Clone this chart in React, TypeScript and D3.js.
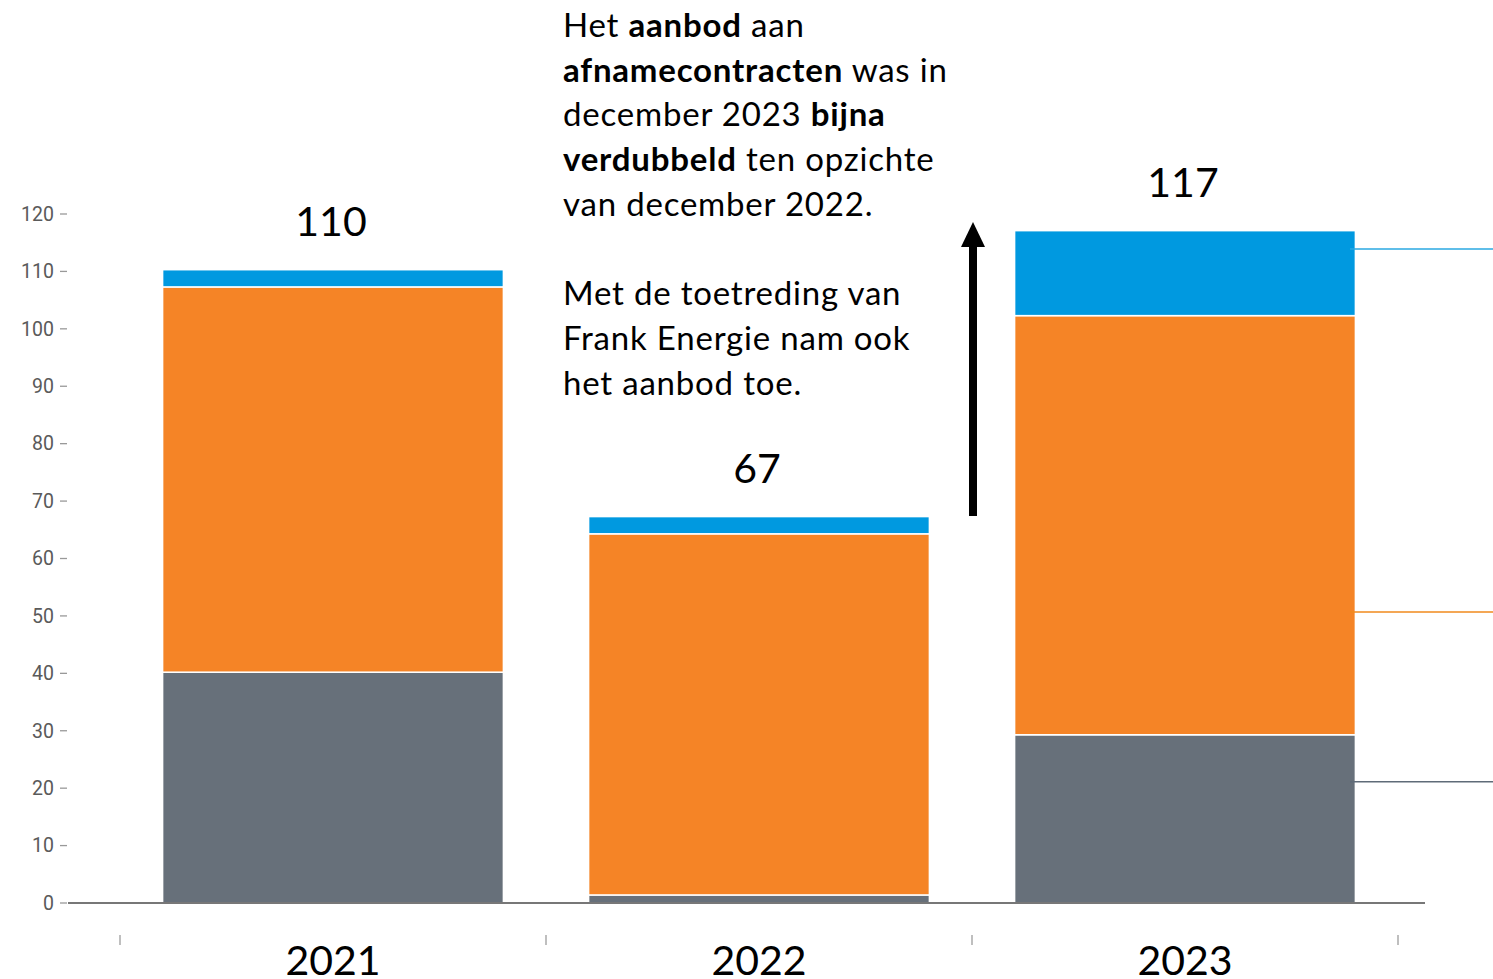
import React from 'react';
import * as d3 from 'd3';

const years = ['2021', '2022', '2023'];
const greyValues = [40.2, 1.4, 29.3];
const orangeValues = [67.1, 62.9, 73.0];
const blueValues = [3.0, 3.0, 14.8];
const totalLabels = ['110', '67', '117'];
const yTicks = [0, 10, 20, 30, 40, 50, 60, 70, 80, 90, 100, 110, 120];
const seriesColors = ['#67707a', '#f58426', '#0099e0'];
const leaderValues = [21.1, 50.7, 113.9];
const leaderColors = ['#5f6b78', '#f08a1c', '#2aa8e2'];
const arrowFrom = 67.4;
const arrowTo = 118.6;

const noteLines: [string, boolean][][] = [
  [['Het ', false], ['aanbod', true], [' aan', false]],
  [['afnamecontracten', true], [' was in', false]],
  [['december 2023 ', false], ['bijna', true]],
  [['verdubbeld', true], [' ten opzichte', false]],
  [['van december 2022.', false]],
  [],
  [['Met de toetreding van', false]],
  [['Frank Energie nam ook', false]],
  [['het aanbod toe.', false]],
];

const W = 1493;
const H = 979;
const FONT = 'Lato, "Open Sans", sans-serif';

export default function App() {
  const x = d3.scaleBand<string>()
    .domain(years)
    .range([120, 1398])
    .paddingInner(0.2)
    .paddingOuter(0.1);

  const y = d3.scaleLinear().domain([0, 120]).range([903, 214]);

  const rows = years.map((yr, i) => ({
    year: yr,
    grey: greyValues[i],
    orange: orangeValues[i],
    blue: blueValues[i],
  }));
  const stack = d3.stack<any>().keys(['grey', 'orange', 'blue'])(rows);

  const step = x.step();
  // tick marks sit halfway in the gap between bands
  const boundaries = years.map(yr => (x(yr) as number) - (step * 0.2) / 2)
    .concat([(x(years[years.length - 1]) as number) + x.bandwidth() + (step * 0.2) / 2]);

  const arrowX = boundaries[2] + 1;
  const yTop = y(arrowTo);
  const yBot = y(arrowFrom);

  return (
    <svg width={W} height={H} style={{ position: 'absolute', left: 0, top: 0, background: '#fff' }}>
      {/* y axis ticks */}
      <g>
        {yTicks.map(t => (
          <g key={t} transform={`translate(0,${y(t)})`}>
            <text x={54} dy="0.35em" textAnchor="end" fontFamily="Roboto, sans-serif" fontSize={19.5} fill="#5a5a5a">{t}</text>
            <line x1={60} x2={67} stroke="#999" strokeWidth={1.3} />
          </g>
        ))}
      </g>

      {/* bars */}
      {stack.map((layer, li) => (
        <g key={layer.key} fill={seriesColors[li]}>
          {layer.map((d, i) => (
            <rect
              key={i}
              x={x(years[i])}
              y={y(d[1])}
              width={x.bandwidth()}
              height={y(d[0]) - y(d[1])}
              stroke="#fff"
              strokeWidth={1.5}
            />
          ))}
        </g>
      ))}

      {/* baseline */}
      <line x1={68} x2={1425} y1={y(0)} y2={y(0)} stroke="#777" strokeWidth={2} />

      {boundaries.map((b, i) => (
        <line key={i} x1={b} x2={b} y1={935} y2={945} stroke="#aaa" strokeWidth={1.5} />
      ))}

      {/* year labels */}
      {years.map(yr => (
        <text key={yr} x={(x(yr) as number) + x.bandwidth() / 2} y={975} textAnchor="middle" fontFamily={FONT} fontSize={41} fill="#000">{yr}</text>
      ))}

      {/* total labels */}
      {rows.map((r, i) => (
        <text key={i} x={(x(r.year) as number) + x.bandwidth() / 2 - 2} y={y(r.grey + r.orange + r.blue) - 34} textAnchor="middle" fontFamily={FONT} fontSize={41} fill="#000">{totalLabels[i]}</text>
      ))}

      {/* leader lines on the right */}
      {leaderValues.map((v, i) => (
        <line key={i} x1={1350} x2={W} y1={y(v)} y2={y(v)} stroke={leaderColors[i]} strokeWidth={1.5} />
      ))}

      {/* arrow */}
      <line x1={arrowX} x2={arrowX} y1={yBot} y2={yTop + 22} stroke="#000" strokeWidth={8} />
      <path d={`M${arrowX},${yTop} L${arrowX - 12},${yTop + 25} L${arrowX + 12},${yTop + 25} Z`} fill="#000" />

      {/* annotation */}
      <text fontFamily={FONT} fontSize={33} letterSpacing={0.8} fill="#000">
        {noteLines.map((line, li) => (
          <tspan key={li} x={563} y={37 + li * 44.7}>
            {line.map(([s, b], si) => (
              <tspan key={si} fontWeight={b ? 'bold' : 'normal'}>{s}</tspan>
            ))}
          </tspan>
        ))}
      </text>
    </svg>
  );
}
